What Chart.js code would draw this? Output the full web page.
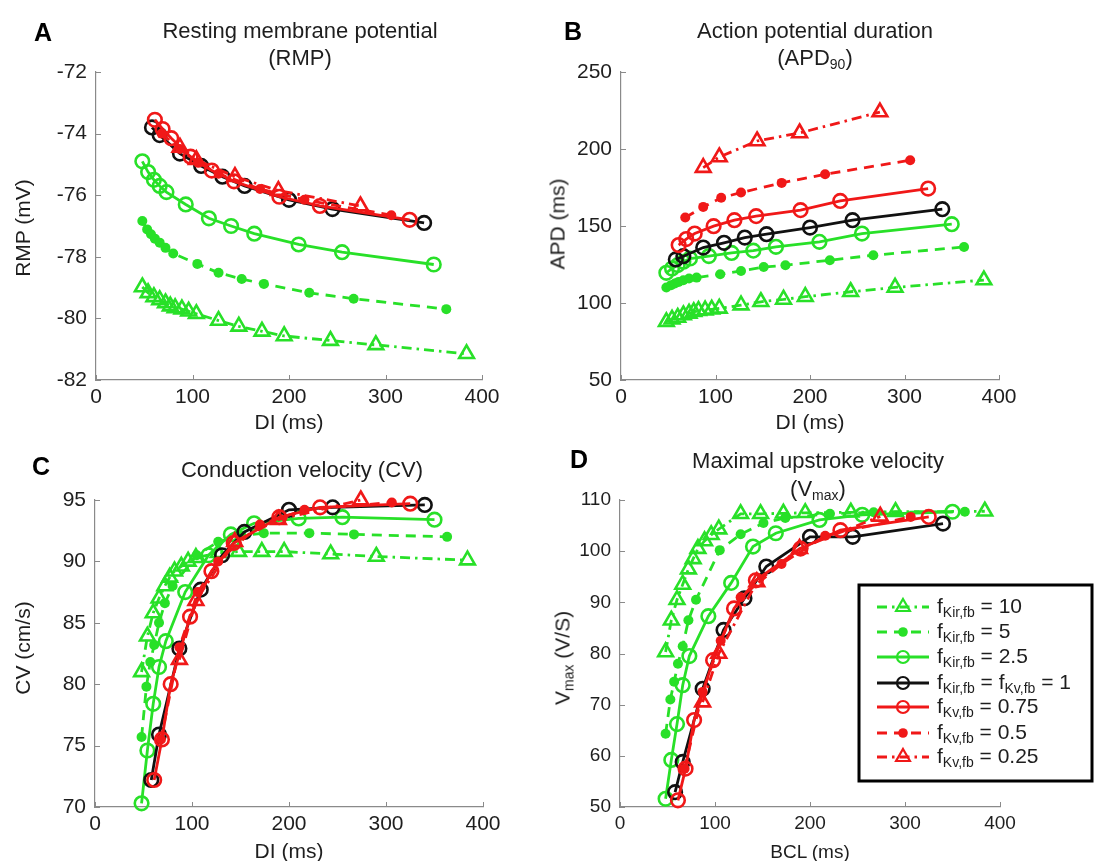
<!DOCTYPE html>
<html>
<head>
<meta charset="utf-8">
<script src="https://cdn.jsdelivr.net/npm/chart.js@4.4.1/dist/chart.umd.min.js"></script>
<style>
  body { margin: 0; background: #fff; }
  #fig { position: relative; width: 1094px; height: 861px; overflow: hidden; background: #fff;
         font-family: "Liberation Sans", Arial, sans-serif; color: #1e1e1e; }
  #fig canvas { position: absolute; }
  .txt { position: absolute; white-space: nowrap; line-height: 1; transform: translate(-50%, -50%); }
  .letter { font-size: 25px; font-weight: bold; color: #000; }
  .title { font-size: 22px; }
  .axlab { font-size: 21px; }
  .small { font-size: 19px; }
  .ylab { transform: translate(-50%, -50%) rotate(-90deg); }
  .txt sub { font-size: 14px; vertical-align: -4px; line-height: 0; }
</style>
</head>
<body>
<div id="fig">
  <canvas id="chartA" width="547" height="430" style="left:0;top:0"></canvas>
  <canvas id="chartB" width="547" height="430" style="left:547px;top:0"></canvas>
  <canvas id="chartC" width="547" height="431" style="left:0;top:430px"></canvas>
  <canvas id="chartD" width="547" height="431" style="left:547px;top:430px"></canvas>

  <div class="txt letter" style="left:43px;top:32px">A</div>
  <div class="txt title" style="left:300px;top:31px">Resting membrane potential</div>
  <div class="txt title" style="left:300px;top:58px">(RMP)</div>
  <div class="txt axlab ylab" style="left:22px;top:228px">RMP (mV)</div>
  <div class="txt axlab" style="left:289px;top:421px">DI (ms)</div>

  <div class="txt letter" style="left:573px;top:31px">B</div>
  <div class="txt title" style="left:815px;top:31px">Action potential duration</div>
  <div class="txt title" style="left:815px;top:58px">(APD<sub>90</sub>)</div>
  <div class="txt axlab ylab" style="left:557px;top:224px">APD (ms)</div>
  <div class="txt axlab" style="left:810px;top:421px">DI (ms)</div>

  <div class="txt letter" style="left:41px;top:466px">C</div>
  <div class="txt title" style="left:302px;top:470px">Conduction velocity (CV)</div>
  <div class="txt axlab ylab" style="left:22px;top:648px">CV (cm/s)</div>
  <div class="txt axlab" style="left:289px;top:850px">DI (ms)</div>

  <div class="txt letter" style="left:579px;top:459px">D</div>
  <div class="txt title" style="left:818px;top:461px">Maximal upstroke velocity</div>
  <div class="txt title" style="left:818px;top:489px">(V<sub>max</sub>)</div>
  <div class="txt axlab ylab" style="left:562px;top:658px">V<sub>max</sub> (V/S)</div>
  <div class="txt small" style="left:810px;top:851px">BCL (ms)</div>
</div>

<script>
// pacing steps (DI / BCL, ms) for each conductance setting
const diKir10 = [48, 54, 60, 66, 72, 77, 82, 89, 96, 104, 127, 148, 172, 195, 243, 290, 384];
const diKir5 = [48, 53, 57, 61, 66, 72, 80, 105, 127, 151, 174, 221, 267, 363];
const diKir25 = [48, 54, 60, 66, 73, 93, 117, 140, 164, 210, 255, 350];
const diCtrl = [58, 66, 87, 109, 131, 154, 200, 245, 340];
const diKv075 = [61, 69, 78, 98, 120, 143, 190, 232, 325];
const diKv05 = [68, 87, 106, 127, 170, 216, 306];
const diKv025 = [87, 104, 144, 189, 274];

// A - RMP (mV)
const rmpKir10 = [-78.98, -79.17, -79.3, -79.4, -79.5, -79.6, -79.66, -79.7, -79.77, -79.85, -80.07, -80.26, -80.42, -80.57, -80.72, -80.86, -81.15];
const rmpKir5 = [-76.84, -77.11, -77.27, -77.41, -77.54, -77.71, -77.89, -78.23, -78.52, -78.72, -78.88, -79.17, -79.36, -79.7];
const rmpKir25 = [-74.9, -75.25, -75.5, -75.7, -75.9, -76.3, -76.75, -77.0, -77.25, -77.6, -77.85, -78.25];
const rmpCtrl = [-73.8, -74.05, -74.65, -75.05, -75.4, -75.7, -76.15, -76.45, -76.9];
const rmpKv075 = [-73.55, -73.85, -74.15, -74.75, -75.2, -75.55, -76.05, -76.35, -76.8];
const rmpKv05 = [-74.0, -74.5, -74.95, -75.3, -75.8, -76.15, -76.65];
const rmpKv025 = [-74.45, -74.85, -75.4, -75.85, -76.35];

// B - APD90 (ms)
const apdKir10 = [87.8, 89.4, 90.6, 92.2, 93.2, 94.3, 95.0, 95.4, 95.9, 96.5, 98.6, 100.8, 102.3, 104.1, 107.3, 110.1, 114.9];
const apdKir5 = [110.1, 111.6, 112.7, 113.7, 114.8, 115.9, 116.5, 118.7, 120.8, 123.4, 124.5, 127.8, 131.0, 136.4];
const apdKir25 = [119.6, 122.4, 124.6, 126.8, 128.9, 130.5, 132.5, 134, 136.5, 139.7, 145.1, 151.2];
const apdCtrl = [128.3, 130.4, 136, 139.1, 142.5, 144.7, 149, 153.8, 160.9];
const apdKv075 = [137.6, 141.5, 145.1, 149.9, 153.8, 156.4, 160.3, 166.3, 174.3];
const apdKv05 = [155.5, 162.4, 168.3, 171.7, 178, 183.6, 192.7];
const apdKv025 = [187.9, 194.8, 205.2, 210.4, 224];

// C - CV (cm/s)
const cvKir10 = [81, 83.9, 85.8, 87.0, 88.0, 88.7, 89.2, 89.6, 90.0, 90.3, 90.7, 90.8, 90.8, 90.8, 90.6, 90.4, 90.1];
const cvKir5 = [75.7, 79.8, 81.8, 83.2, 85.0, 86.6, 88.0, 90.5, 91.6, 92.1, 92.3, 92.3, 92.2, 92.0];
const cvKir25 = [70.3, 74.6, 78.4, 81.4, 83.5, 87.5, 90.5, 92.2, 93.1, 93.5, 93.6, 93.4];
const cvCtrl = [72.2, 75.9, 82.9, 87.7, 90.5, 92.4, 94.2, 94.4, 94.6];
const cvKv075 = [72.2, 75.5, 80.0, 85.5, 89.2, 91.5, 93.6, 94.4, 94.7];
const cvKv05 = [75.5, 83, 87.5, 90, 93, 94.2, 94.8];
const cvKv025 = [82, 86.8, 91.6, 93.4, 95.0];

// D - Vmax (V/s)
const vmaxKir10 = [80.3, 86.5, 90.5, 93.5, 96.5, 98.5, 100.5, 102, 103.2, 104.3, 107.3, 107.3, 107.4, 107.5, 107.6, 107.7, 107.8];
const vmaxKir5 = [64.3, 71, 74.5, 78, 81.4, 86.5, 90.5, 100.2, 103.3, 105.5, 106.5, 107.3, 107.6, 107.7];
const vmaxKir25 = [51.6, 59.2, 66.2, 73.8, 79.5, 87.3, 93.8, 100.9, 103.5, 106.1, 107.1, 107.7];
const vmaxCtrl = [52.9, 58.8, 73.1, 84.6, 90.8, 97, 102.8, 102.8, 105.4];
const vmaxKv075 = [51.3, 57.5, 67, 78.7, 88.8, 94.3, 100.5, 104.1, 106.7];
const vmaxKv05 = [57.5, 72.5, 82.5, 91, 97.5, 103, 106.7];
const vmaxKv025 = [70.5, 80, 94, 100.5, 106.8];

const xTicks = [0, 100, 200, 300, 400];

const GREEN = 'rgb(40, 224, 40)';
const RED = 'rgb(240, 24, 24)';
const BLACK = '#111';
const AXIS = '#8a8a8a';
const TEXT = '#1e1e1e';
const FONT = '"Liberation Sans", Arial, sans-serif';

const DASH_DOT = [10, 5, 2.5, 5];
const DASHED = [10, 7];

// legend text: [text, isSubscript]
const series = [
  { di: diKir10, color: GREEN, dash: DASH_DOT, marker: 'triangle', order: 6, label: [['f', 0], ['Kir,fb', 1], [' = 10', 0]] },
  { di: diKir5, color: GREEN, dash: DASHED, marker: 'dot', order: 5, label: [['f', 0], ['Kir,fb', 1], [' = 5', 0]] },
  { di: diKir25, color: GREEN, dash: [], marker: 'circle', order: 4, label: [['f', 0], ['Kir,fb', 1], [' = 2.5', 0]] },
  { di: diCtrl, color: BLACK, dash: [], marker: 'circle', order: 3, label: [['f', 0], ['Kir,fb', 1], [' = f', 0], ['Kv,fb', 1], [' = 1', 0]] },
  { di: diKv075, color: RED, dash: [], marker: 'circle', order: 2, label: [['f', 0], ['Kv,fb', 1], [' = 0.75', 0]] },
  { di: diKv05, color: RED, dash: DASHED, marker: 'dot', order: 1, label: [['f', 0], ['Kv,fb', 1], [' = 0.5', 0]] },
  { di: diKv025, color: RED, dash: DASH_DOT, marker: 'triangle', order: 0, label: [['f', 0], ['Kv,fb', 1], [' = 0.25', 0]] }
];

const Y_W = 60, X_H = 30;

function markerRadius(m) {
  if (m === 'triangle') return 8.5;
  if (m === 'dot') return 5;
  return 6.8;
}

function buildDatasets(values) {
  return series.map((s, i) => ({
    data: s.di.map((x, j) => ({ x: x, y: values[i][j] })),
    borderColor: s.color,
    borderWidth: 2.8,
    borderDash: s.dash,
    pointStyle: s.marker === 'triangle' ? 'triangle' : 'circle',
    pointRadius: markerRadius(s.marker),
    pointBorderWidth: s.marker === 'dot' ? 0 : 2.6,
    pointBorderColor: s.color,
    pointBackgroundColor: s.marker === 'dot' ? s.color : 'rgba(0,0,0,0)',
    fill: false,
    tension: 0,
    clip: false,
    order: s.order
  }));
}

// MATLAB-style tick marks pointing into the axes
const inwardTicks = {
  id: 'inwardTicks',
  afterDraw(chart) {
    const { ctx, chartArea: a, scales: { x, y } } = chart;
    ctx.save();
    ctx.strokeStyle = AXIS;
    ctx.lineWidth = 1;
    ctx.beginPath();
    x.ticks.forEach(t => {
      const px = Math.round(x.getPixelForValue(t.value)) + 0.5;
      ctx.moveTo(px, a.bottom);
      ctx.lineTo(px, a.bottom - 5);
    });
    y.ticks.forEach(t => {
      const py = Math.round(y.getPixelForValue(t.value)) + 0.5;
      ctx.moveTo(a.left, py);
      ctx.lineTo(a.left + 5, py);
    });
    ctx.stroke();
    ctx.restore();
  }
};

function drawMarker(ctx, s, x, y, r) {
  ctx.save();
  ctx.setLineDash([]);
  ctx.strokeStyle = s.color;
  ctx.fillStyle = s.color;
  ctx.lineWidth = 2.2;
  ctx.beginPath();
  if (s.marker === 'triangle') {
    ctx.moveTo(x, y - r);
    ctx.lineTo(x + r * 0.866, y + r * 0.5);
    ctx.lineTo(x - r * 0.866, y + r * 0.5);
    ctx.closePath();
    ctx.stroke();
  } else if (s.marker === 'dot') {
    ctx.arc(x, y, r * 0.6, 0, Math.PI * 2);
    ctx.fill();
  } else {
    ctx.arc(x, y, r * 0.75, 0, Math.PI * 2);
    ctx.stroke();
  }
  ctx.restore();
}

// boxed legend in the lower right of panel D
const seriesLegend = {
  id: 'seriesLegend',
  afterDraw(chart) {
    const ctx = chart.ctx;
    const box = { left: 312, top: 155, right: 545, bottom: 351 };
    ctx.save();
    ctx.fillStyle = '#fff';
    ctx.fillRect(box.left, box.top, box.right - box.left, box.bottom - box.top);
    ctx.strokeStyle = '#000';
    ctx.lineWidth = 3;
    ctx.strokeRect(box.left, box.top, box.right - box.left, box.bottom - box.top);

    const rowY = [177, 202, 227, 253, 277, 303, 327];
    series.forEach((s, i) => {
      const y = rowY[i];
      ctx.strokeStyle = s.color;
      ctx.lineWidth = 2.8;
      ctx.setLineDash(s.dash);
      ctx.beginPath();
      ctx.moveTo(330, y);
      ctx.lineTo(382, y);
      ctx.stroke();
      drawMarker(ctx, s, 356, y, 8);

      let tx = 390;
      ctx.fillStyle = TEXT;
      ctx.textBaseline = 'middle';
      s.label.forEach(([str, sub]) => {
        ctx.font = (sub ? '14px ' : '21px ') + FONT;
        ctx.fillText(str, tx, sub ? y + 6 : y);
        tx += ctx.measureText(str).width;
      });
    });
    ctx.restore();
  }
};

function makeChart(id, area, yMin, yMax, yStep, values, fontSize, extra) {
  const canvas = document.getElementById(id);
  const W = canvas.width, H = canvas.height;
  const tickFont = { family: FONT, size: fontSize };
  return new Chart(canvas.getContext('2d'), {
    type: 'line',
    data: { datasets: buildDatasets(values) },
    options: {
      responsive: false,
      animation: false,
      devicePixelRatio: 1,
      layout: {
        padding: { left: area.l - Y_W, top: area.t, right: W - area.r, bottom: H - area.b - X_H }
      },
      plugins: { legend: { display: false }, tooltip: { enabled: false } },
      scales: {
        x: {
          type: 'linear', min: 0, max: 400,
          afterBuildTicks: s => { s.ticks = xTicks.map(v => ({ value: v })); },
          ticks: { font: tickFont, color: TEXT, padding: 5, maxRotation: 0 },
          grid: { display: false, drawTicks: false },
          border: { color: AXIS, width: 1.2 },
          afterFit: s => { s.height = X_H; }
        },
        y: {
          type: 'linear', min: yMin, max: yMax,
          ticks: { stepSize: yStep, font: tickFont, color: TEXT, padding: 9 },
          grid: { display: false, drawTicks: false },
          border: { color: AXIS, width: 1.2 },
          afterFit: s => { s.width = Y_W; }
        }
      }
    },
    plugins: [inwardTicks].concat(extra || [])
  });
}

makeChart('chartA', { l: 96, t: 72, r: 482, b: 380 }, -82, -72, 2,
  [rmpKir10, rmpKir5, rmpKir25, rmpCtrl, rmpKv075, rmpKv05, rmpKv025], 21);
makeChart('chartB', { l: 74, t: 72, r: 452, b: 380 }, 50, 250, 50,
  [apdKir10, apdKir5, apdKir25, apdCtrl, apdKv075, apdKv05, apdKv025], 21);
makeChart('chartC', { l: 95, t: 70, r: 483, b: 377 }, 70, 95, 5,
  [cvKir10, cvKir5, cvKir25, cvCtrl, cvKv075, cvKv05, cvKv025], 21);
makeChart('chartD', { l: 73, t: 70, r: 453, b: 377 }, 50, 110, 10,
  [vmaxKir10, vmaxKir5, vmaxKir25, vmaxCtrl, vmaxKv075, vmaxKv05, vmaxKv025], 19, [seriesLegend]);
</script>
</body>
</html>
